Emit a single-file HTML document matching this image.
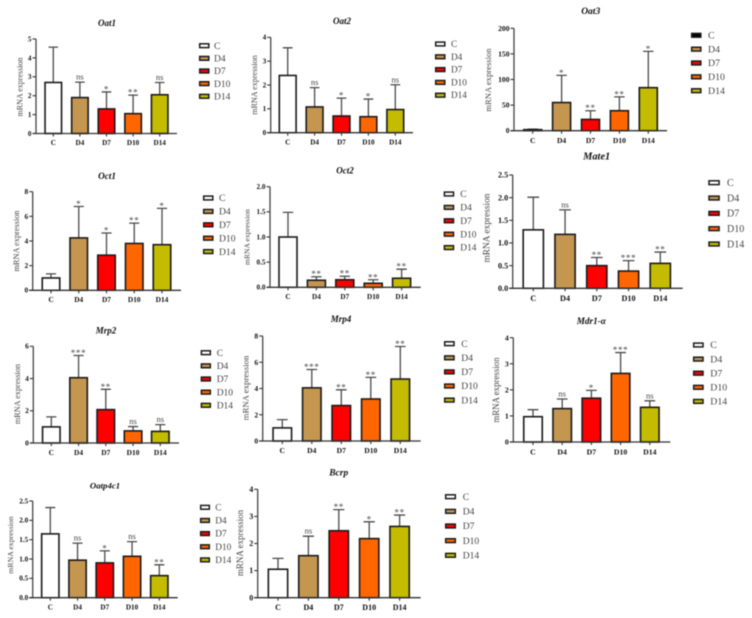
<!DOCTYPE html>
<html lang="en">
<head>
<meta charset="utf-8">
<title>mRNA expression panels</title>
<style>
html,body{margin:0;padding:0;background:#fff;width:752px;height:618px;overflow:hidden}
svg{display:block;filter:blur(0.5px)}
text{font-family:"Liberation Serif",serif}
</style>
</head>
<body>
<svg id="figure" width="752" height="618" viewBox="0 0 752 618" xmlns="http://www.w3.org/2000/svg"></svg>
<script>
const categories = ['C', 'D4', 'D7', 'D10', 'D14'];
const oat1Values = [2.7, 1.9, 1.3, 1.05, 2.05];
const oat1Tops = [4.57, 2.72, 2.2, 2.03, 2.7];
const oat1Sig = ['', 'ns', '*', '**', 'ns'];
const oat1Ticks = ['0', '1', '2', '3', '4', '5'];
const oat2Values = [2.4, 1.08, 0.7, 0.67, 0.97];
const oat2Tops = [3.56, 1.89, 1.45, 1.41, 2.01];
const oat2Sig = ['', 'ns', '*', '*', 'ns'];
const oat2Ticks = ['0', '1', '2', '3', '4'];
const oat3Values = [2, 55, 22, 39, 84];
const oat3Tops = [3, 108, 39, 66, 155];
const oat3Sig = ['', '*', '**', '**', '*'];
const oat3Ticks = ['0', '50', '100', '150', '200'];
const oct1Values = [1, 4.25, 2.85, 3.8, 3.7];
const oct1Tops = [1.33, 6.8, 4.65, 5.45, 6.65];
const oct1Sig = ['', '*', '*', '**', '*'];
const oct1Ticks = ['0', '2', '4', '6', '8'];
const oct2Values = [1, 0.14, 0.15, 0.08, 0.18];
const oct2Tops = [1.49, 0.21, 0.22, 0.15, 0.36];
const oct2Sig = ['', '**', '**', '**', '**'];
const oct2Ticks = ['0.0', '0.5', '1.0', '1.5', '2.0'];
const mate1Values = [1.29, 1.19, 0.5, 0.38, 0.55];
const mate1Tops = [2.01, 1.73, 0.68, 0.61, 0.8];
const mate1Sig = ['', 'ns', '**', '***', '**'];
const mate1Ticks = ['0.0', '0.5', '1.0', '1.5', '2.0', '2.5'];
const mrp2Values = [1, 4.05, 2.07, 0.75, 0.72];
const mrp2Tops = [1.62, 5.43, 3.33, 1.02, 1.14];
const mrp2Sig = ['', '***', '**', 'ns', 'ns'];
const mrp2Ticks = ['0', '2', '4', '6'];
const mrp4Values = [1, 4.05, 2.7, 3.2, 4.72];
const mrp4Tops = [1.63, 5.45, 3.9, 4.85, 7.2];
const mrp4Sig = ['', '***', '**', '**', '**'];
const mrp4Ticks = ['0', '2', '4', '6', '8'];
const mdr1Values = [0.97, 1.28, 1.68, 2.63, 1.33];
const mdr1Tops = [1.24, 1.65, 1.98, 3.43, 1.58];
const mdr1Sig = ['', 'ns', '*', '***', 'ns'];
const mdr1Ticks = ['0', '1', '2', '3', '4'];
const oatp4c1Values = [1.65, 0.97, 0.9, 1.07, 0.57];
const oatp4c1Tops = [2.33, 1.41, 1.21, 1.45, 0.85];
const oatp4c1Sig = ['', 'ns', '*', 'ns', '**'];
const oatp4c1Ticks = ['0.0', '0.5', '1.0', '1.5', '2.0', '2.5'];
const bcrpValues = [1.05, 1.55, 2.47, 2.18, 2.63];
const bcrpTops = [1.45, 2.27, 3.25, 2.8, 3.05];
const bcrpSig = ['', 'ns', '**', '*', '**'];
const bcrpTicks = ['0', '1', '2', '3', '4'];

const fills = ['#ffffff', '#c49650', '#ff0000', '#ff6600', '#c4bc00'];
const NS = 'http://www.w3.org/2000/svg';
const figure = document.getElementById('figure');

const panels = [
  {key:'oat1', title:'Oat1', values:oat1Values, tops:oat1Tops, sig:oat1Sig, ticks:oat1Ticks,
   axisX:36, axisEnd:177, top:39, bottom:133.5, c0:53.3, step:26.6, barW:16.5,
   titleX:107, titleY:26, titleSize:9, yTitleX:20, yTitleY:87, yTitleSize:8, tickSize:7.2,
   legX:199, legW:10.5, legY0:45.7, legStep:12.65, legTextX:214, legSize:9.5},
  {key:'oat2', title:'Oat2', values:oat2Values, tops:oat2Tops, sig:oat2Sig, ticks:oat2Ticks,
   axisX:270.7, axisEnd:413, top:37.3, bottom:132.7, c0:287.7, step:26.9, barW:16.8,
   titleX:342, titleY:24, titleSize:9, yTitleX:254.7, yTitleY:85, yTitleSize:8.1, tickSize:7.2,
   legX:435, legW:10.5, legY0:44, legStep:12.8, legTextX:451, legSize:9.2},
  {key:'oat3', title:'Oat3', values:oat3Values, tops:oat3Tops, sig:oat3Sig, ticks:oat3Ticks, firstFill:'#000000',
   axisX:514, axisEnd:667, top:28.3, bottom:130.7, c0:532.7, step:28.9, barW:18,
   titleX:590.7, titleY:14, titleSize:9.5, yTitleX:488.7, yTitleY:80, yTitleSize:8.6, tickSize:7.6,
   legX:691, legW:10.5, legY0:35.3, legStep:13.85, legTextX:708, legSize:9.8},
  {key:'oct1', title:'Oct1', values:oct1Values, tops:oct1Tops, sig:oct1Sig, ticks:oct1Ticks,
   axisX:32.7, axisEnd:181, top:191.7, bottom:290.3, c0:51, step:27.75, barW:17.5,
   titleX:107, titleY:179, titleSize:9.2, yTitleX:16.7, yTitleY:241, yTitleSize:8.3, tickSize:7.4,
   legX:203, legW:10.5, legY0:198, legStep:13.4, legTextX:219, legSize:9.6},
  {key:'oct2', title:'Oct2', values:oct2Values, tops:oct2Tops, sig:oct2Sig, ticks:oct2Ticks,
   axisX:270, axisEnd:420.7, top:186.7, bottom:287.3, c0:288, step:28.4, barW:18,
   titleX:345, titleY:173.5, titleSize:9, yTitleX:247, yTitleY:237, yTitleSize:7.6, tickSize:7.2,
   legX:443.7, legW:10.5, legY0:194, legStep:13.4, legTextX:460.3, legSize:9.4},
  {key:'mate1', title:'Mate1', values:mate1Values, tops:mate1Tops, sig:mate1Sig, ticks:mate1Ticks,
   axisX:512.7, axisEnd:682.7, top:175, bottom:288.3, c0:533.3, step:31.75, barW:20.2,
   titleX:596.7, titleY:159.5, titleSize:10.4, yTitleX:487, yTitleY:228, yTitleSize:9.4, tickSize:8.2,
   legX:708.3, legW:11.5, legY0:182.7, legStep:15.33, legTextX:727, legSize:10},
  {key:'mrp2', title:'Mrp2', values:mrp2Values, tops:mrp2Tops, sig:mrp2Sig, ticks:mrp2Ticks,
   axisX:33.3, axisEnd:179, top:346.3, bottom:443, c0:51.3, step:27.25, barW:17.5,
   titleX:106, titleY:333.5, titleSize:9, yTitleX:17.7, yTitleY:394, yTitleSize:8.2, tickSize:7.4,
   legX:200.7, legW:10.3, legY0:352.7, legStep:13.15, legTextX:216.7, legSize:9.5},
  {key:'mrp4', title:'Mrp4', values:mrp4Values, tops:mrp4Tops, sig:mrp4Sig, ticks:mrp4Ticks,
   axisX:262.7, axisEnd:420.7, top:336, bottom:441, c0:282.3, step:29.5, barW:18.5,
   titleX:341, titleY:322, titleSize:9, yTitleX:246, yTitleY:388, yTitleSize:8.8, tickSize:7.6,
   legX:444, legW:10.7, legY0:343.7, legStep:14.1, legTextX:461.3, legSize:9.6},
  {key:'mdr1', title:'Mdr1-\u03b1', values:mdr1Values, tops:mdr1Tops, sig:mdr1Sig, ticks:mdr1Ticks,
   axisX:513.3, axisEnd:670.3, top:337.7, bottom:442, c0:533, step:29.2, barW:18.5,
   titleX:591.3, titleY:324, titleSize:9.2, yTitleX:496.7, yTitleY:390, yTitleSize:8.9, tickSize:7.8,
   legX:693, legW:10.7, legY0:345, legStep:14.1, legTextX:710.3, legSize:9.8},
  {key:'oatp4c1', title:'Oatp4c1', values:oatp4c1Values, tops:oatp4c1Tops, sig:oatp4c1Sig, ticks:oatp4c1Ticks,
   axisX:32.7, axisEnd:177.7, top:501, bottom:597.7, c0:50.3, step:27.25, barW:17.3,
   titleX:105, titleY:488.5, titleSize:8.8, yTitleX:10.7, yTitleY:545, yTitleSize:7.8, tickSize:7.2,
   legX:200, legW:10, legY0:507.3, legStep:13.15, legTextX:215.3, legSize:9.3},
  {key:'bcrp', title:'Bcrp', values:bcrpValues, tops:bcrpTops, sig:bcrpSig, ticks:bcrpTicks,
   axisX:257.7, axisEnd:420.7, top:489.3, bottom:597.7, c0:278, step:30.4, barW:19.3,
   titleX:338.7, titleY:475.5, titleSize:9.5, yTitleX:240.7, yTitleY:543, yTitleSize:9, tickSize:8,
   legX:445, legW:11, legY0:496.7, legStep:14.65, legTextX:462.7, legSize:9.6}
];

function node(parent, tag, attrs, content) {
  const el = document.createElementNS(NS, tag);
  for (const k in attrs) el.setAttribute(k, attrs[k]);
  if (content !== undefined) el.textContent = content;
  parent.appendChild(el);
  return el;
}

function drawPanel(p) {
  const g = node(figure, 'g', {});
  
  

  const maxTick = parseFloat(p.ticks[p.ticks.length - 1]);
  const yScale = v => p.bottom - (v / maxTick) * (p.bottom - p.top);
  const xScale = i => p.c0 + i * p.step;

  const title = node(g, 'text', {x:p.titleX, y:p.titleY, 'text-anchor':'middle', 'font-size':p.titleSize, 'font-weight':'bold', 'font-style':'italic', fill:'#111'}, p.title);
  
  

  const yTitle = node(g, 'text', {x:p.yTitleX + 2.5, y:p.yTitleY, 'text-anchor':'middle', 'font-size':p.yTitleSize, fill:'#444', transform:'rotate(-90 ' + (p.yTitleX + 2.5) + ' ' + p.yTitleY + ')'}, 'mRNA expression');
  
  

  categories.forEach((cat, i) => {
    const cx = xScale(i);
    const barTop = yScale(p.values[i]);
    const errTop = yScale(p.tops[i]);
    const capW = p.barW * 0.58;

    const err = node(g, 'path', {d:'M' + cx + ' ' + barTop + 'V' + errTop + 'M' + (cx - capW / 2) + ' ' + errTop + 'H' + (cx + capW / 2), fill:'none', stroke:'#4a4a4a', 'stroke-width':1.3});
    
    

    const fill = (i === 0 && p.firstFill) ? p.firstFill : fills[i];
    const bar = node(g, 'rect', {x:cx - p.barW / 2, y:barTop, width:p.barW, height:p.bottom - barTop, fill:fill, stroke:'#1a1a1a', 'stroke-width':1.6});
    
    

    const tick = node(g, 'line', {x1:cx, x2:cx, y1:p.bottom, y2:p.bottom + 3, stroke:'#333', 'stroke-width':1.1});
    
    

    const label = node(g, 'text', {x:cx, y:p.bottom + p.tickSize + 4.5, 'text-anchor':'middle', 'font-size':p.tickSize, 'font-weight':'bold', fill:'#111'}, cat);
    
    

    if (p.sig[i]) {
      const isNs = p.sig[i] === 'ns';
      const sig = node(g, 'text', {x:cx, y:isNs ? errTop - 2.5 : errTop + 0.5, 'text-anchor':'middle', 'font-size':isNs ? 8.5 : 9, 'letter-spacing':isNs ? 0 : 0.7, fill:'#444'}, p.sig[i]);
      
      
    }
  });

  const yAxis = node(g, 'line', {x1:p.axisX, x2:p.axisX, y1:p.top, y2:p.bottom, stroke:'#444', 'stroke-width':1.3});
  
  

  const xAxis = node(g, 'line', {x1:p.axisX - 3.5, x2:p.axisEnd, y1:p.bottom, y2:p.bottom, stroke:'#333', 'stroke-width':1.3});
  
  

  p.ticks.forEach(t => {
    const y = yScale(parseFloat(t));
    const tick = node(g, 'line', {x1:p.axisX - 3.5, x2:p.axisX, y1:y, y2:y, stroke:'#333', 'stroke-width':1.1});
    
    

    const label = node(g, 'text', {x:p.axisX - 4.5, y:y + p.tickSize * 0.33, 'text-anchor':'end', 'font-size':p.tickSize, 'font-weight':'bold', fill:'#111'}, t);
    
    
  });

  categories.forEach((cat, i) => {
    const y = p.legY0 + i * p.legStep;
    const fill = (i === 0 && p.firstFill) ? p.firstFill : fills[i];
    const swatch = node(g, 'rect', {x:p.legX + 0.7, y:y - 1.9, width:p.legW - 1.4, height:3.8, fill:fill, stroke:'#1a1a1a', 'stroke-width':1.5});
    
    

    const text = node(g, 'text', {x:p.legTextX, y:y + p.legSize * 0.33, 'font-size':p.legSize, fill:'#444'}, cat);
    
    
  });
}

panels.forEach(drawPanel);
</script>
</body>
</html>
